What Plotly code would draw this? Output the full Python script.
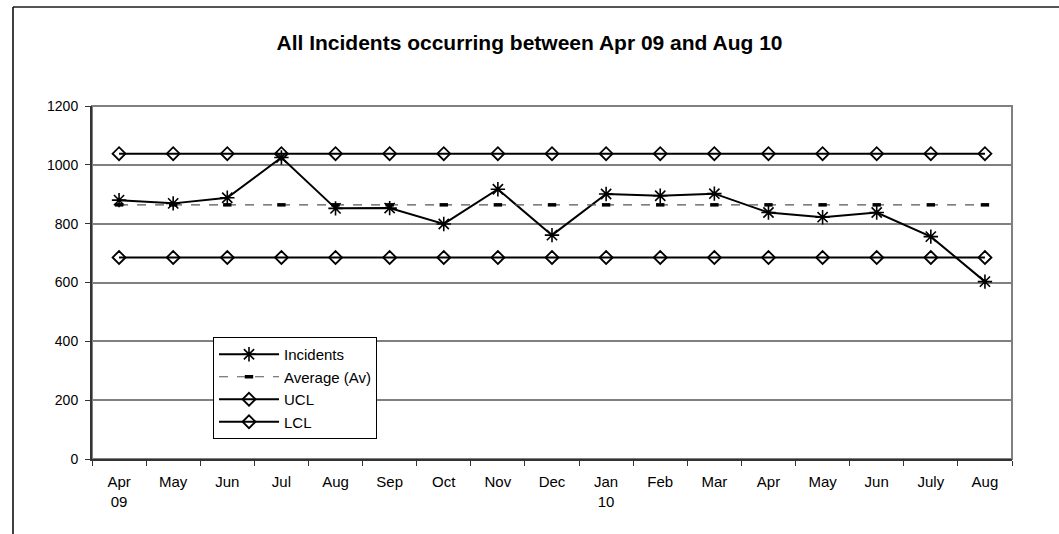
import plotly.graph_objects as go

months = ["Apr<br>09", "May", "Jun", "Jul", "Aug", "Sep", "Oct", "Nov", "Dec",
          "Jan<br>10", "Feb", "Mar", "Apr", "May", "Jun", "July", "Aug"]
incidents = [880, 869, 888, 1025, 852, 853, 799, 917, 761, 901, 895, 902, 838, 822, 838, 756, 603]
average = [864] * 17
ucl = [1038] * 17
lcl = [685] * 17
y_ticks = [0, 200, 400, 600, 800, 1000, 1200]

xs = list(range(len(months)))
W, H = 1059, 534
L, R, T, B = 92, 1012, 106, 459

fig = go.Figure()
fig.add_trace(go.Scatter(x=xs, y=incidents, name="Incidents", mode="lines+markers",
                         line=dict(color="black", width=2),
                         marker=dict(symbol="asterisk-open", size=12, color="black",
                                     line=dict(color="black", width=1.6))))
fig.add_trace(go.Scatter(x=xs, y=average, name="Average (Av)", mode="lines+markers",
                         line=dict(color="#555555", width=1.2, dash="dash"),
                         marker=dict(symbol="line-ew-open", size=6, color="black",
                                     line=dict(color="black", width=3.5))))
fig.add_trace(go.Scatter(x=xs, y=ucl, name="UCL", mode="lines+markers",
                         line=dict(color="black", width=2),
                         marker=dict(symbol="diamond-open", size=10, color="black",
                                     line=dict(color="black", width=1.8))))
fig.add_trace(go.Scatter(x=xs, y=lcl, name="LCL", mode="lines+markers",
                         line=dict(color="black", width=2),
                         marker=dict(symbol="diamond-open", size=10, color="black",
                                     line=dict(color="black", width=1.8))))

def px_x(px):
    return (px - L) / (R - L)

def px_y(py):
    return (B - py) / (B - T)

shapes = [
    dict(type="line", xref="paper", yref="paper", x0=px_x(13), x1=px_x(1059),
         y0=px_y(7), y1=px_y(7), line=dict(color="#555555", width=2)),
    dict(type="line", xref="paper", yref="paper", x0=px_x(13), x1=px_x(13),
         y0=px_y(7), y1=px_y(534), line=dict(color="black", width=1.5)),
    dict(type="rect", xref="paper", yref="paper", x0=0, x1=1, y0=0, y1=1,
         line=dict(color="#808080", width=2), layer="below"),
]

fig.update_layout(
    width=W, height=H,
    margin=dict(l=L, r=W - R, t=T, b=H - B),
    paper_bgcolor="white", plot_bgcolor="white",
    font=dict(family="Arial, Liberation Sans, sans-serif", size=14, color="black"),
    title=dict(text="<b>All Incidents occurring between Apr 09 and Aug 10</b>",
               x=0.5, xanchor="center", y=1 - 43 / H, yanchor="middle",
               font=dict(size=21, color="black")),
    showlegend=True,
    legend=dict(x=px_x(213), y=px_y(337), xanchor="left", yanchor="top",
                bgcolor="white", bordercolor="black", borderwidth=1,
                font=dict(size=15), tracegroupgap=0, itemwidth=60),
    shapes=shapes,
)
fig.update_xaxes(range=[-0.5, len(months) - 0.5], tickmode="array", tickvals=xs,
                 ticktext=months, ticks="", showgrid=False, zeroline=False,
                 showline=True, linecolor="#333333", linewidth=2,
                 tickfont=dict(size=15), ticklabelstandoff=8,
                 minor=dict(tickmode="array", tickvals=[i - 0.5 for i in range(len(months) + 1)],
                            ticks="outside", ticklen=5, tickcolor="#333333", tickwidth=1,
                            showgrid=False))
fig.update_yaxes(range=[0, 1200], tickmode="array", tickvals=y_ticks, ticks="outside",
                 ticklen=5, tickcolor="#333333", showgrid=True, gridcolor="#808080",
                 gridwidth=1.5, zeroline=False, showline=True, linecolor="#333333",
                 linewidth=2, tickfont=dict(size=14), ticklabelstandoff=4)

fig.write_html("out.html")
